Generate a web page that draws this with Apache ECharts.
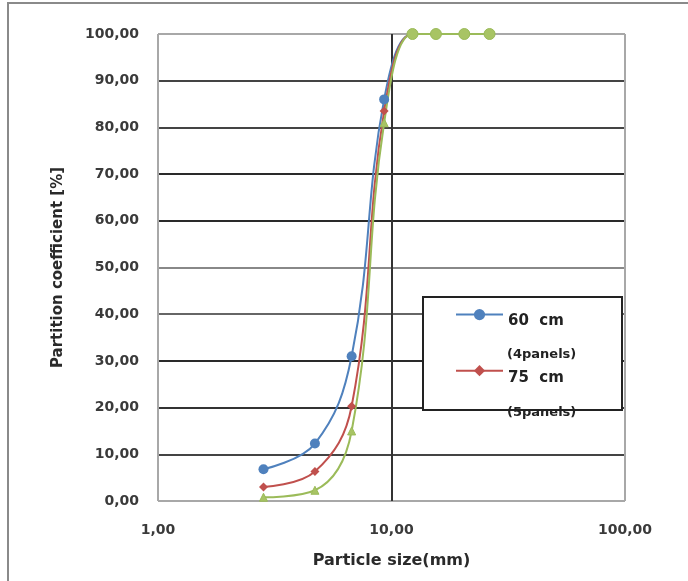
<!DOCTYPE html>
<html>
<head>
<meta charset="utf-8">
<script src="https://cdn.jsdelivr.net/npm/echarts@6/dist/echarts.min.js"></script>
<style>
  html, body { margin: 0; padding: 0; background: #fff; }
  #chart { width: 688px; height: 581px; }
</style>
</head>
<body>
<div id="chart"></div>
<script>
// particle size (mm) and partition coefficient (%)
const sizes = [2.83, 4.7, 6.75, 9.3, 12.3, 15.5, 20.5, 26.3];
const panels60 = [6.8, 12.3, 31.0, 86.0, 100, 100, 100, 100];
const panels75 = [3.0, 6.3, 20.3, 83.5, 100, 100, 100, 100];
const panels3 = [0.8, 2.3, 15.0, 81.0, 100, 100, 100, 100];

const seriesNames = ['60  cm', '75  cm'];
const seriesSubs = ['(4panels)', '(5panels)'];
const xTicks = [1, 10, 100];

const fmt = v => v.toFixed(2).replace('.', ',');
const pairs = ys => sizes.map((x, i) => [x, ys[i]]);

const chart = echarts.init(document.getElementById('chart'));
const font = 'DejaVu Sans';

const option = {
  animation: false,
  backgroundColor: '#fff',
  grid: {
    left: 158, right: 63, top: 34, bottom: 80,
    show: true, borderColor: '#a8a8a8', borderWidth: 1
  },
  xAxis: {
    type: 'log',
    logBase: 10,
    min: xTicks[0],
    max: xTicks[xTicks.length - 1],
    name: 'Particle size(mm)',
    nameLocation: 'middle',
    nameGap: 52,
    nameTextStyle: { fontFamily: font, fontSize: 16, fontWeight: 'bold', color: '#2a2a2a' },
    axisLine: { show: false },
    axisTick: { show: false },
    axisLabel: {
      margin: 22,
      fontFamily: font, fontSize: 14, fontWeight: 'bold', color: '#3a3a3a',
      formatter: v => fmt(v)
    },
    splitLine: { show: true, lineStyle: { color: ['#a8a8a8', '#333', '#a8a8a8'], width: 2 } }
  },
  yAxis: {
    type: 'value',
    min: 0, max: 100, interval: 10,
    name: 'Partition coefficient [%]',
    nameLocation: 'middle',
    nameGap: 92,
    nameTextStyle: { fontFamily: font, fontSize: 15, fontWeight: 'bold', color: '#2a2a2a' },
    axisLine: { show: false },
    axisTick: { show: false },
    axisLabel: {
      margin: 19,
      fontFamily: font, fontSize: 14, fontWeight: 'bold', color: '#3a3a3a',
      formatter: v => fmt(v)
    },
    splitLine: {
      lineStyle: {
        color: ['#a8a8a8', '#444', '#333', '#2a2a2a', '#666', '#888', '#2a2a2a', '#2a2a2a', '#444', '#444', '#a8a8a8'],
        width: 2
      }
    }
  },
  legend: {
    data: seriesNames,
    orient: 'vertical',
    left: 455,
    top: 309,
    padding: 0,
    itemWidth: 47,
    itemHeight: 14,
    itemGap: 36,
    z: 5,
    formatter: name => '{n|' + name + '}',
    textStyle: {
      rich: {
        n: { fontFamily: font, fontSize: 15, fontWeight: 'bold', color: '#222', padding: [14, 0, 0, 0] }
      }
    }
  },
  graphic: [
    { type: 'rect', z: 3, shape: { x: 8, y: 3, width: 700, height: 600 },
      style: { fill: 'none', stroke: '#8a8a8a', lineWidth: 2 } },
    { type: 'rect', z: 3, shape: { x: 423, y: 297, width: 199, height: 113 },
      style: { fill: '#fff', stroke: '#222', lineWidth: 2 } },
    { type: 'text', z: 6, x: 507, y: 355,
      style: { text: seriesSubs[0], font: 'bold 13px "DejaVu Sans"', fill: '#222', textVerticalAlign: 'middle' } },
    { type: 'text', z: 6, x: 507, y: 413,
      style: { text: seriesSubs[1], font: 'bold 13px "DejaVu Sans"', fill: '#222', textVerticalAlign: 'middle' } }
  ],
  series: [
    {
      name: seriesNames[0],
      type: 'line',
      smooth: 0.4,
      data: pairs(panels60),
      symbol: 'circle',
      symbolSize: 10,
      itemStyle: { color: '#4f81bd' },
      lineStyle: { color: '#4f81bd', width: 2 }
    },
    {
      name: seriesNames[1],
      type: 'line',
      smooth: 0.4,
      data: pairs(panels75),
      symbol: 'diamond',
      symbolSize: 9,
      itemStyle: { color: '#c0504d' },
      lineStyle: { color: '#c0504d', width: 2 }
    },
    {
      name: 'panels3',
      type: 'line',
      smooth: 0.4,
      data: pairs(panels3),
      symbol: v => (v[1] >= 100 ? 'circle' : 'triangle'),
      symbolSize: v => (v[1] >= 100 ? 11 : 8),
      itemStyle: { color: '#a8c464', borderColor: '#9bbb59', borderWidth: 1 },
      lineStyle: { color: '#9bbb59', width: 2 }
    }
  ]
};

chart.setOption(option);
</script>
</body>
</html>
